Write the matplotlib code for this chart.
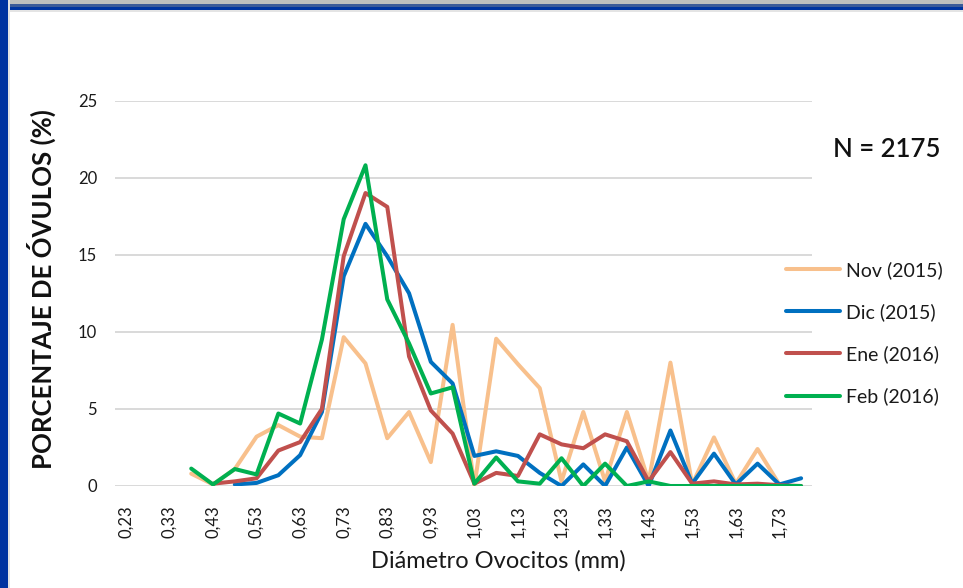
import numpy as np
import matplotlib
matplotlib.use("Agg")
import matplotlib.pyplot as plt
from matplotlib.patches import Rectangle

nan = np.nan
categories = ["0,23", "0,28", "0,33", "0,38", "0,43", "0,48", "0,53", "0,58",
              "0,63", "0,68", "0,73", "0,78", "0,83", "0,88", "0,93", "0,98",
              "1,03", "1,08", "1,13", "1,18", "1,23", "1,28", "1,33", "1,38",
              "1,43", "1,48", "1,53", "1,58", "1,63", "1,68", "1,73", "1,78"]

nov_2015 = [nan, nan, nan, 0.8, 0.1, 1.1, 3.2, 3.95, 3.2, 3.1, 9.65, 7.95, 3.1, 4.8,
            1.55, 10.45, 0.0, 9.55, 7.9, 6.35, 0.3, 4.8, 0.3, 4.8, 0.3, 8.0, 0.1,
            3.15, 0.15, 2.4, 0.1, nan]
dic_2015 = [nan, nan, nan, nan, nan, 0.1, 0.2, 0.7, 2.0, 4.8, 13.6, 17.0, 14.9, 12.5,
            8.05, 6.65, 1.95, 2.25, 1.95, 0.85, 0.0, 1.4, 0.0, 2.5, 0.0, 3.6, 0.15,
            2.1, 0.1, 1.45, 0.1, 0.5]
ene_2016 = [nan, nan, nan, nan, 0.15, 0.3, 0.5, 2.3, 2.85, 5.0, 14.9, 19.0, 18.1, 8.4,
            4.9, 3.4, 0.15, 0.85, 0.65, 3.35, 2.7, 2.45, 3.35, 2.9, 0.3, 2.2, 0.15,
            0.3, 0.1, 0.15, 0.05, 0.0]
feb_2016 = [nan, nan, nan, 1.13, 0.1, 1.1, 0.75, 4.7, 4.05, 9.5, 17.3, 20.8, 12.1, 9.25,
            6.0, 6.4, 0.15, 1.85, 0.3, 0.15, 1.8, 0.0, 1.45, 0.0, 0.3, 0.0, 0.0,
            0.0, 0.0, 0.0, 0.0, 0.0]

series_labels = ["Nov (2015)", "Dic (2015)", "Ene (2016)", "Feb (2016)"]
series_colors = ["#F8C08C", "#0070C0", "#C0504D", "#00B050"]
y_ticks = [0, 5, 10, 15, 20, 25]

FONT = "Lato"
plt.rcParams["font.family"] = [FONT, "DejaVu Sans"]

W, H = 963, 588
fig = plt.figure(figsize=(W / 100, H / 100), dpi=100)
fig.patch.set_facecolor("white")

# frame decorations (slide border)
fig.add_artist(Rectangle((0, 1 - 4 / H), 1, 4 / H, transform=fig.transFigure,
                         facecolor="#BEBEBE", edgecolor="none"))
fig.add_artist(Rectangle((0, 1 - 7.5 / H), 1, 3.5 / H, transform=fig.transFigure,
                         facecolor="#3C5A98", edgecolor="none"))
fig.add_artist(Rectangle((0, 1 - 10 / H), 1, 2.5 / H, transform=fig.transFigure,
                         facecolor="#0033A0", edgecolor="none"))
fig.add_artist(Rectangle((0, 1 - 11.5 / H), 1, 1.5 / H, transform=fig.transFigure,
                         facecolor="#E4E4E4", edgecolor="none"))
fig.add_artist(Rectangle((8 / W, 0), 2 / W, 1, transform=fig.transFigure,
                         facecolor="#E4E4E4", edgecolor="none"))
fig.add_artist(Rectangle((0, 0), 8 / W, 1, transform=fig.transFigure,
                         facecolor="#0033A0", edgecolor="none"))

ax = fig.add_axes([115 / W, 1 - 486 / H, (812 - 115) / W, (486 - 100.5) / H])
x = np.arange(len(categories))
series = [nov_2015, dic_2015, ene_2016, feb_2016]
for vals, lab, col in zip(series, series_labels, series_colors):
    ax.plot(x, vals, color=col, lw=2.9, label=lab, solid_joinstyle="round",
            solid_capstyle="round")

ax.set_xlim(-0.5, len(categories) - 0.5)
ax.set_ylim(0, 25)
ax.set_yticks(y_ticks)
ax.set_yticklabels([str(v) for v in y_ticks], fontsize=12, color="#1a1a1a")
ax.set_xticks(x[::2])
ax.set_xticklabels(categories[::2], rotation=90, fontsize=12, color="#1a1a1a")
ax.tick_params(axis="both", length=0)
ax.tick_params(axis="y", pad=13)
ax.tick_params(axis="x", pad=14)
ax.grid(axis="y", color="#D9D9D9", lw=1.4)
ax.set_axisbelow(True)
for s in ax.spines.values():
    s.set_visible(False)

ax.set_ylabel("PORCENTAJE DE ÓVULOS (%)", fontsize=18.5, fontweight="bold",
              color="#111111")
ax.yaxis.set_label_coords((56 - 115) / (812 - 115), (486 - 289) / (486 - 100.5))
ax.set_xlabel("Diámetro Ovocitos (mm)", fontsize=17, color="#1a1a1a")
ax.xaxis.set_label_coords((498 - 115) / (812 - 115), -(550 - 486) / (486 - 100.5))

fig.text(833 / W, 1 - 150 / H, "N = 2175", fontsize=18.5, fontweight="semibold",
         color="#111111", va="center", ha="left")

fig.legend(loc="upper left", bbox_to_anchor=(778 / W, 1 - 253 / H), frameon=False,
           fontsize=14, handlelength=2.8, handletextpad=0.3, labelspacing=1.25,
           borderaxespad=0, labelcolor="#1a1a1a")

fig.savefig("out.png", dpi=100)
